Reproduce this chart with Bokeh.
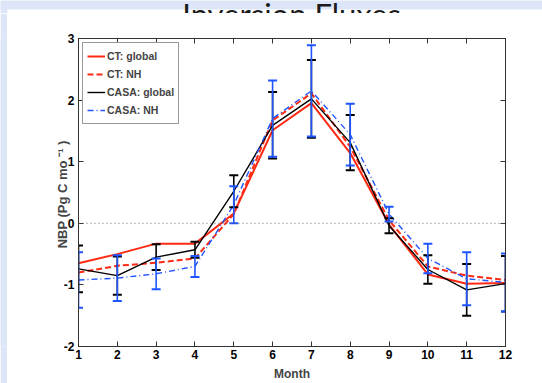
from bokeh.plotting import figure
from bokeh.models import (Range1d, FixedTicker, LinearAxis, Span, Legend, LegendItem)
from bokeh.layouts import column, row
from bokeh.core.properties import value
from bokeh.embed import file_html
from bokeh.resources import INLINE

months = [1, 2, 3, 4, 5, 6, 7, 8, 9, 10, 11, 12]
ct_global = [-0.65, -0.50, -0.33, -0.33, 0.16, 1.51, 1.95, 1.14, -0.02, -0.83, -0.98, -0.97]
ct_nh = [-0.80, -0.69, -0.64, -0.57, 0.15, 1.67, 2.11, 1.24, 0.05, -0.70, -0.85, -0.92]
casa_global = [-0.74, -0.85, -0.55, -0.43, 0.52, 1.59, 2.02, 1.31, -0.04, -0.75, -1.08, -0.98]
casa_global_err = [0.38, 0.31, 0.21, 0.13, 0.26, 0.54, 0.63, 0.45, 0.12, 0.23, 0.42, 0.45]
casa_nh = [-0.92, -0.89, -0.82, -0.70, 0.30, 1.70, 2.15, 1.44, 0.15, -0.57, -0.90, -0.96]
casa_nh_err = [0.45, 0.37, 0.25, 0.17, 0.30, 0.62, 0.74, 0.50, 0.12, 0.24, 0.43, 0.47]
y_ticks = [-2, -1, 0, 1, 2, 3]
title_text = "Inversion Fluxes"

RED = "#ff2a14"
BLUE = "#1e55ff"
BLACK = "#000000"
FONT = "Liberation Sans"
BG = "#dce6f8"

# ---- title strip (slide title, cut at the top edge) ----
t = figure(width=542, height=13, output_backend="svg", toolbar_location=None,
           x_range=Range1d(0, 542), y_range=Range1d(0, 13), min_border=0,
           background_fill_color=BG, border_fill_color=BG)
t.axis.visible = False
t.grid.visible = False
t.outline_line_color = None
t.quad(left=[7], right=[542], bottom=[0], top=[4], fill_color="white", line_color=None)
t.text(x=[291], y=[0], text=[title_text], text_font=value("Lato"), text_font_size="31px",
       text_align="center", text_baseline="alphabetic", text_color="#1a1a1a")

# ---- left strip ----
s = figure(width=7, height=370, output_backend="svg", toolbar_location=None, min_border=0,
           background_fill_color=BG, border_fill_color=BG)
s.axis.visible = False
s.grid.visible = False
s.outline_line_color = None

# ---- main chart ----
p = figure(width=535, height=370, output_backend="svg", toolbar_location=None,
           x_range=Range1d(1, 12), y_range=Range1d(-2, 3),
           min_border_left=71, min_border_right=37, min_border_top=25, min_border_bottom=36,
           background_fill_color="white", border_fill_color="white")
p.xgrid.visible = False
p.ygrid.visible = False
p.outline_line_color = "#333333"


def style_axis(ax):
    ax.major_tick_in = 5
    ax.major_tick_out = 0
    ax.minor_tick_in = 0
    ax.minor_tick_out = 0
    ax.axis_line_color = "#333333"
    ax.major_tick_line_color = "#333333"
    ax.major_label_text_font = FONT
    ax.major_label_text_font_style = "bold"
    ax.major_label_text_font_size = "12px"
    ax.major_label_text_color = "black"
    ax.axis_label_text_font = FONT
    ax.axis_label_text_font_style = "bold"
    ax.axis_label_text_font_size = "12px"


p.xaxis.ticker = FixedTicker(ticks=months)
p.yaxis.ticker = FixedTicker(ticks=y_ticks)
p.xaxis.major_label_overrides = {m: str(m) for m in months}
p.yaxis.major_label_overrides = {v: str(v) for v in y_ticks}
style_axis(p.xaxis[0])
style_axis(p.yaxis[0])
p.xaxis.axis_label = "Month"
p.yaxis.axis_label = "NBP (Pg C mo  \u207b\u00b9 )"
p.yaxis.axis_label_text_font_size = "13px"
p.xaxis.major_label_standoff = 3
p.xaxis.axis_label_standoff = 5
p.yaxis.major_label_standoff = 4
p.yaxis.axis_label_standoff = -9

top_ax = LinearAxis(ticker=FixedTicker(ticks=months))
style_axis(top_ax)
top_ax.major_label_overrides = {m: "" for m in months}
top_ax.major_label_standoff = 0
p.add_layout(top_ax, "above")
right_ax = LinearAxis(ticker=FixedTicker(ticks=y_ticks))
style_axis(right_ax)
right_ax.major_label_overrides = {v: "" for v in y_ticks}
right_ax.major_label_standoff = 0
p.add_layout(right_ax, "right")

p.add_layout(Span(location=0, dimension="width", line_color="#666666", line_dash="1 3", line_width=1))

r1 = p.line(months, ct_global, line_color=RED, line_width=2)
r2 = p.line(months, ct_nh, line_color=RED, line_width=2, line_dash="6 3")
r3 = p.line(months, casa_global, line_color=BLACK, line_width=1.4)
r4 = p.line(months, casa_nh, line_color=BLUE, line_width=1.4, line_dash="6 3 1 3")


def errbars(vals, errs, color):
    lo = [v - e for v, e in zip(vals, errs)]
    hi = [v + e for v, e in zip(vals, errs)]
    p.segment(x0=months, y0=lo, x1=months, y1=hi, line_color=color, line_width=1.6)
    p.scatter(months + months, lo + hi, marker="dash", size=9, line_color=color, line_width=2)


errbars(casa_global, casa_global_err, BLACK)
errbars(casa_nh, casa_nh_err, BLUE)

legend = Legend(items=[LegendItem(label="CT: global", renderers=[r1]),
                       LegendItem(label="CT: NH", renderers=[r2]),
                       LegendItem(label="CASA: global", renderers=[r3]),
                       LegendItem(label="CASA: NH", renderers=[r4])],
                location="top_left", margin=4, padding=4, spacing=0,
                label_height=18, glyph_height=18, glyph_width=18, label_standoff=2,
                label_text_font=FONT, label_text_font_style="bold", label_text_font_size="10.5px",
                border_line_color="#333333", border_line_width=1, background_fill_alpha=1)
p.add_layout(legend)

layout = column(t, row(s, p, spacing=0), spacing=0)

open("out.html", "w").write(file_html(layout, INLINE))
